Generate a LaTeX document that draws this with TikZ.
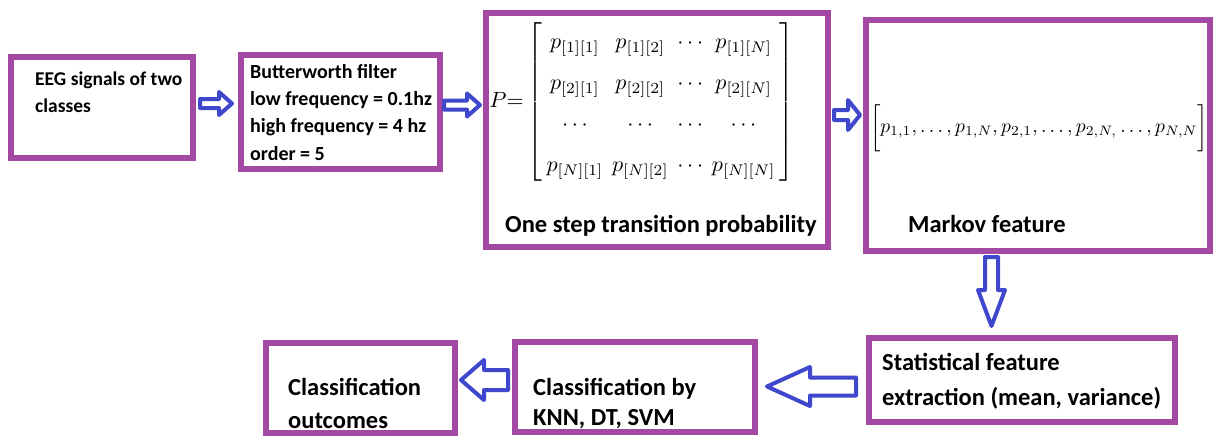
\documentclass[tikz,border=0pt]{standalone}
\usepackage{fontspec}
\usepackage{graphicx}
\setmainfont{Carlito}
\definecolor{boxpurple}{RGB}{163,73,164}
\definecolor{arrowblue}{RGB}{63,72,204}
\tikzset{
  stagebox/.style={draw=boxpurple, line width=5.5pt, fill=white, rectangle, inner sep=0pt},
  % multi-line labels are anchored at the baseline of their last line
  boxlabel/.style 2 args={font=\bfseries\fontsize{#1}{#2}\selectfont, align=left, anchor=base west, inner sep=0pt},
  arrowline/.style={draw=arrowblue, fill=white, line width=4pt, line join=round},
  pics/hollowarrow/.style n args={4}{code={
    % #1 length, #2 shaft half width, #3 head half width, #4 head length
    \draw[arrowline] (0,-#2) -- ({#1-#4},-#2) -- ({#1-#4},-#3) -- (#1,0)
      -- ({#1-#4},#3) -- ({#1-#4},#2) -- (0,#2) -- cycle;
  }},
}
\begin{document}
\begin{tikzpicture}[x=1pt, y=-1pt]
\useasboundingbox[fill=white] (0,0) rectangle (1215,437);

% stage boxes
\node[stagebox, minimum width=182pt, minimum height=101pt] (b1) at (102,107.5) {};
\node[stagebox, minimum width=199pt, minimum height=114pt] (b2) at (340.5,112) {};
\node[stagebox, minimum width=342pt, minimum height=234pt] (b3) at (657,130) {};
\node[stagebox, minimum width=344pt, minimum height=231pt] (b4) at (1038,135.5) {};
\node[stagebox, minimum width=306pt, minimum height=84pt] (b5) at (1022,380) {};
\node[stagebox, minimum width=240pt, minimum height=90pt] (b6) at (635,387) {};
\node[stagebox, minimum width=189pt, minimum height=90pt] (b7) at (360.5,388) {};

% box texts
\node[boxlabel={19.5}{27}] (t1) at (35,112) {EEG signals of two\\classes};
\node[boxlabel={20}{27.3}] (t2) at (250,160) {Butterworth filter\\low frequency = 0.1hz\\high frequency = 4 hz\\order = 5};
\node[boxlabel={24.5}{33}] (t3) at (505,232) {One step transition probability};
\node[boxlabel={24.5}{33}] (t4) at (908,232) {Markov feature};
\node[boxlabel={24.5}{35}] (t5) at (882,405) {Statistical feature\\extraction (mean, variance)};
\node[boxlabel={24.5}{30}] (t6) at (533,425) {Classification by\\KNN, DT, SVM};
\node[boxlabel={24.5}{33}] (t7) at (288,428) {Classification\\outcomes};

% transition matrix
\node[inner sep=0pt] (mat) at (642,102) {\resizebox{305pt}{!}{%
  \renewcommand{\arraystretch}{1.55}\setlength{\arraycolsep}{2pt}%
  $P{=}\left[\begin{array}{cccc}
    p_{[1][1]} & p_{[1][2]} & \cdots & p_{[1][N]}\\
    p_{[2][1]} & p_{[2][2]} & \cdots & p_{[2][N]}\\
    \cdots & \cdots & \cdots & \cdots\\
    p_{[N][1]} & p_{[N][2]} & \cdots & p_{[N][N]}
  \end{array}\right]$}};

% Markov feature vector
\node[inner sep=0pt] (vec) at (1039,128) {\resizebox{338pt}{!}{%
  $\biggl[p_{1,1},\ldots,p_{1,N},p_{2,1},\ldots,p_{2,N,}\ldots,p_{N,N}\biggr]$}};

% block arrows between stages
\coordinate (a1) at (200,103.5);
\coordinate (a2) at (444,105);
\coordinate (a3) at (834,115);
\coordinate (a4) at (991.5,257);
\coordinate (a5) at (856,386.5);
\coordinate (a6) at (508,380);
\pic at (a1) {hollowarrow={32}{4.5}{11.5}{13}};
\pic at (a2) {hollowarrow={36}{4.5}{11.5}{13}};
\pic at (a3) {hollowarrow={26}{5}{15}{12}};
\pic[rotate=-90] at (a4) {hollowarrow={69}{6.5}{13.5}{36}};
\pic[rotate=180] at (a5) {hollowarrow={89}{9}{19.5}{43}};
\pic[rotate=180] at (a6) {hollowarrow={47}{10}{20}{23}};
\end{tikzpicture}
\end{document}
